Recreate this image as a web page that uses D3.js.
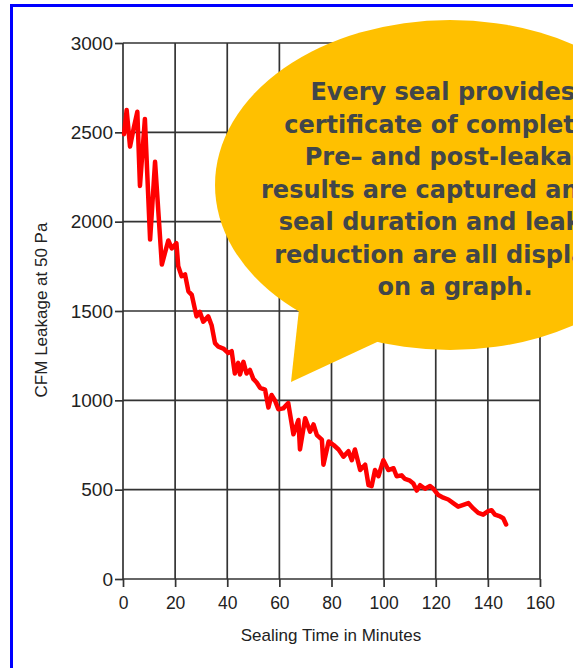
<!DOCTYPE html>
<html>
<head>
<meta charset="utf-8">
<title>Sealing Time vs CFM Leakage</title>
<script src="https://cdn.jsdelivr.net/npm/d3@7"></script>
<style>
    body { margin: 0; background: #ffffff; }
    svg { display: block; }
</style>
</head>
<body>
<script>
//chart data

//minutes into the seal
var minutes = [0.4, 1.4, 2.7, 4.2, 5.5, 6.5, 8.4, 10.4, 12.3, 14.9, 17.4, 18.7, 20.5, 21.2, 22.5, 23.8,
    25.1, 26.4, 28.2, 29.5, 30.8, 32.7, 34.0, 35.3, 36.6, 38.5, 40.4, 41.7, 42.9, 44.2, 44.9, 46.2,
    47.4, 48.7, 50.0, 51.3, 52.6, 54.5, 55.8, 57.0, 58.3, 59.6, 61.5, 63.4, 65.4, 67.3, 67.9, 69.9,
    71.8, 73.1, 74.4, 76.3, 76.9, 78.9, 80.8, 82.7, 84.6, 86.5, 87.8, 89.0, 91.0, 92.9, 94.2, 95.4,
    96.7, 98.0, 99.9, 101.8, 103.8, 105.0, 106.9, 108.2, 110.1, 111.4, 112.7, 114.0, 115.9, 117.8,
    119.1, 121.0, 122.9, 124.8, 126.7, 128.6, 130.6, 132.5, 134.4, 136.3, 138.2, 140.1, 141.4,
    142.7, 144.7, 145.9, 147.0];

//CFM leakage at 50 Pa
var leakage = [2490, 2625, 2420, 2530, 2615, 2200, 2575, 1900, 2335, 1760, 1895, 1850, 1880, 1750, 1695, 1705,
    1610, 1590, 1470, 1495, 1440, 1470, 1420, 1320, 1300, 1290, 1265, 1275, 1150, 1210, 1145, 1215,
    1150, 1170, 1120, 1100, 1070, 1060, 960, 1030, 1000, 950, 955, 985, 810, 890, 725, 900,
    825, 865, 805, 780, 640, 770, 750, 725, 685, 715, 665, 725, 610, 640, 525, 520,
    610, 575, 665, 610, 620, 575, 580, 560, 550, 535, 495, 525, 505, 520,
    505, 470, 455, 445, 425, 405, 415, 425, 395, 370, 360, 380, 385,
    360, 350, 340, 305];

var xTicks = [0, 20, 40, 60, 80, 100, 120, 140, 160];
var yTicks = [0, 500, 1000, 1500, 2000, 2500, 3000];

var xTitle = "Sealing Time in Minutes";
var yTitle = "CFM Leakage at 50 Pa";

//speech bubble text, one entry per line
var bubbleLines = [
    "Every seal provides a",
    "certificate of completion.",
    "Pre\u2013 and post-leakage",
    "results are captured and the",
    "seal duration and leakage",
    "reduction are all displayed",
    "on a graph."
];

window.onload = function() {

    //SVG dimension variables
    var w = 573, h = 668;

    var svg = d3.select("body")
        .append("svg")
        .attr("width", w)
        .attr("height", h);

    //blue frame, runs off the right and bottom edge of the picture
    svg.append("rect")
        .attr("x", 11.5)
        .attr("y", 5.5)
        .attr("width", 700)
        .attr("height", 800)
        .style("fill", "#ffffff")
        .style("stroke", "#0000ff")
        .style("stroke-width", 3);

    //scales
    var x = d3.scaleLinear()
        .domain([0, 160])
        .range([123, 540]);

    var y = d3.scaleLinear()
        .domain([0, 3000])
        .range([579, 43]);

    var gridColor = "#333333";

    //vertical grid lines
    svg.append("g")
        .attr("class", "xgrid")
        .selectAll("line")
        .data(xTicks)
        .enter()
        .append("line")
        .attr("x1", function(d) { return x(d); })
        .attr("x2", function(d) { return x(d); })
        .attr("y1", y(0))
        .attr("y2", y(3000))
        .style("stroke", gridColor)
        .style("stroke-width", 1.7);

    //horizontal grid lines
    svg.append("g")
        .attr("class", "ygrid")
        .selectAll("line")
        .data(yTicks)
        .enter()
        .append("line")
        .attr("x1", x(0))
        .attr("x2", x(160))
        .attr("y1", function(d) { return y(d); })
        .attr("y2", function(d) { return y(d); })
        .style("stroke", gridColor)
        .style("stroke-width", 1.7);

    //axes (tick marks and labels only, the grid draws the lines)
    var xAxis = svg.append("g")
        .attr("class", "xaxis")
        .attr("transform", "translate(0," + y(0) + ")")
        .call(d3.axisBottom(x).tickValues(xTicks).tickSize(8).tickPadding(10).tickFormat(d3.format("d")));

    var yAxis = svg.append("g")
        .attr("class", "yaxis")
        .attr("transform", "translate(" + x(0) + ",0)")
        .call(d3.axisLeft(y).tickValues(yTicks).tickSize(8).tickPadding(2).tickFormat(d3.format("d")));

    [xAxis, yAxis].forEach(function(ax) {
        ax.select(".domain").remove();
        ax.selectAll(".tick line")
            .style("stroke", gridColor)
            .style("stroke-width", 1.7);
        ax.selectAll(".tick text")
            .style("font-family", "'Liberation Sans', Arial, sans-serif")
            .style("font-size", "17.5px")
            .style("fill", "#222222");
    });

    //y labels are drawn a bit larger in the reference
    yAxis.selectAll(".tick text")
        .style("font-size", "19px");

    //axis titles
    svg.append("text")
        .attr("x", 331)
        .attr("y", 641)
        .attr("text-anchor", "middle")
        .style("font-family", "'Liberation Sans', Arial, sans-serif")
        .style("font-size", "17px")
        .style("fill", "#222222")
        .text(xTitle);

    svg.append("text")
        .attr("transform", "translate(47,310) rotate(-90)")
        .attr("text-anchor", "middle")
        .style("font-family", "'Liberation Sans', Arial, sans-serif")
        .style("font-size", "17px")
        .style("fill", "#222222")
        .text(yTitle);

    //leakage line
    var points = minutes.map(function(m, i) {
        return [m, leakage[i]];
    });

    var line = d3.line()
        .x(function(d) { return x(d[0]); })
        .y(function(d) { return y(d[1]); });

    svg.append("path")
        .datum(points)
        .attr("class", "leakLine")
        .attr("d", line)
        .style("fill", "none")
        .style("stroke", "#ff0000")
        .style("stroke-width", 4.5)
        .style("stroke-linejoin", "round")
        .style("stroke-linecap", "round");

    //speech bubble over the top right of the chart
    var bubble = svg.append("g")
        .attr("class", "bubble");

    var bubbleColor = "#ffc000";

    bubble.append("ellipse")
        .attr("cx", 450)
        .attr("cy", 185)
        .attr("rx", 235)
        .attr("ry", 165)
        .style("fill", bubbleColor);

    //tail pointing down at the line
    bubble.append("polygon")
        .attr("points", "300,300 291,382 390,336")
        .style("fill", bubbleColor);

    bubble.selectAll(".bubbleText")
        .data(bubbleLines)
        .enter()
        .append("text")
        .attr("class", "bubbleText")
        .attr("x", 455)
        .attr("y", function(d, i) {
            return 100 + i * 32.5;
        })
        .attr("text-anchor", "middle")
        .style("font-family", "'DejaVu Sans', sans-serif")
        .style("font-weight", "bold")
        .style("font-size", "24px")
        .style("fill", "#41464a")
        .text(function(d) { return d; });
};
</script>
</body>
</html>
